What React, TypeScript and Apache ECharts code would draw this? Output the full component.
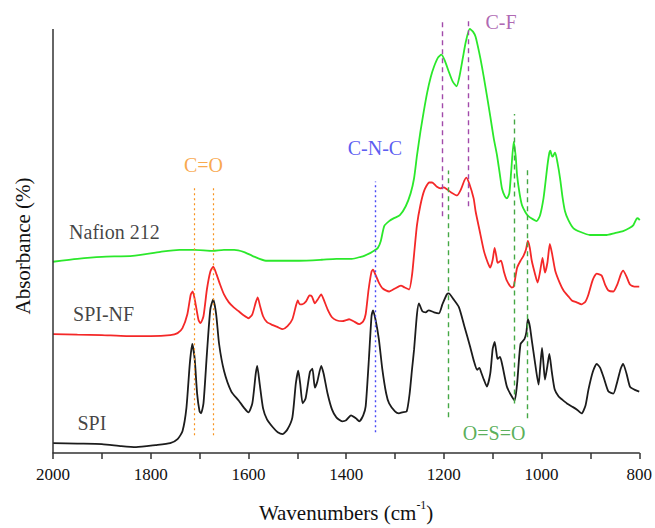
import React, { useEffect, useRef } from 'react';
import * as echarts from 'echarts';

// Wavenumbers (cm-1) and absorbance (arbitrary units, stacked offsets as plotted)
const spiWn = [2000, 1950, 1900, 1860, 1830, 1790, 1760, 1745, 1735, 1727, 1720, 1715, 1710, 1705, 1700, 1697, 1692, 1685, 1678, 1672, 1666, 1660, 1650, 1635, 1620, 1608, 1600, 1592, 1585, 1582, 1577, 1570, 1562, 1550, 1540, 1530, 1520, 1510, 1503, 1498, 1494, 1489, 1483, 1474, 1469, 1464, 1459, 1451, 1446, 1438, 1429, 1420, 1408, 1400, 1390, 1380, 1373, 1365, 1360, 1354, 1348, 1345, 1340, 1333, 1326, 1318, 1312, 1300, 1292, 1285, 1276, 1270, 1265, 1261, 1255, 1251, 1244, 1237, 1231, 1220, 1210, 1203, 1194, 1190, 1180, 1169, 1158, 1146, 1138, 1132, 1127, 1124, 1118, 1112, 1105, 1100, 1096, 1092, 1090, 1085, 1080, 1071, 1062, 1055, 1050, 1043, 1035, 1031, 1028, 1024, 1020, 1013, 1006, 1003, 999, 996, 993, 988, 984, 979, 973, 965, 958, 948, 938, 928, 918, 910, 904, 895, 887, 880, 872, 863, 853, 845, 838, 833, 826, 819, 810, 800];
const spiAbs = [10, 9.5, 9, 7, 6, 8, 10, 14, 22, 45, 90, 110, 95, 60, 42, 40, 50, 100, 145, 155, 140, 110, 83, 62, 53, 45, 41, 50, 80, 88, 70, 45, 34, 26, 21, 19, 24, 36, 70, 83, 70, 50, 55, 82, 85, 66, 72, 88, 80, 60, 44, 36, 32, 33, 38, 35, 32, 38, 47, 90, 138, 144, 135, 115, 85, 60, 50, 42, 40, 41, 42, 60, 85, 104, 140, 151, 143, 142, 144, 142, 141, 150, 160, 161, 155, 147, 128, 107, 92, 84, 86, 82, 74, 67, 80, 105, 112, 100, 95, 97, 88, 67, 58, 53, 70, 110, 115, 122, 135, 128, 114, 90, 69, 85, 106, 90, 74, 88, 100, 82, 64, 57, 54, 50, 47, 44, 40, 48, 64, 82, 90, 86, 75, 62, 60, 72, 85, 90, 80, 67, 64, 62];

const spinfWn = [2000, 1950, 1900, 1850, 1800, 1760, 1745, 1735, 1725, 1718, 1714, 1708, 1702, 1698, 1692, 1685, 1678, 1672, 1665, 1658, 1650, 1640, 1630, 1620, 1610, 1600, 1592, 1585, 1581, 1576, 1570, 1562, 1550, 1540, 1530, 1520, 1510, 1503, 1499, 1495, 1490, 1482, 1475, 1470, 1464, 1458, 1451, 1446, 1438, 1429, 1420, 1408, 1400, 1394, 1385, 1373, 1365, 1360, 1354, 1348, 1345, 1340, 1333, 1325, 1312, 1300, 1288, 1280, 1271, 1265, 1261, 1255, 1248, 1240, 1230, 1224, 1215, 1207, 1200, 1196, 1185, 1173, 1165, 1158, 1154, 1148, 1139, 1135, 1127, 1118, 1110, 1105, 1100, 1096, 1092, 1090, 1083, 1077, 1071, 1061, 1057, 1050, 1043, 1037, 1032, 1028, 1024, 1020, 1014, 1008, 1003, 998, 993, 988, 983, 978, 972, 963, 955, 945, 938, 928, 918, 910, 904, 895, 887, 877, 870, 863, 853, 845, 838, 833, 826, 819, 810, 800];
const spinfAbs = [120, 119.5, 119, 118, 118, 119, 121, 126, 140, 160, 163, 150, 134, 131, 138, 165, 183, 188, 180, 170, 160, 152, 147, 143, 139, 136, 140, 152, 157, 148, 138, 132, 129, 127, 125, 128, 135, 148, 154, 150, 150, 153, 159, 158, 151, 155, 160, 155, 145, 137, 134, 133, 134, 135, 133, 130, 133, 140, 165, 183, 185, 180, 172, 166, 163, 166, 169, 167, 165, 180, 200, 230, 250, 265, 273, 273, 269, 267, 268, 267, 263, 260, 266, 275, 278, 272, 257, 244, 225, 204, 192, 187, 195, 207, 197, 192, 194, 183, 174, 167, 168, 187, 194, 199, 205, 214, 207, 194, 182, 172, 183, 197, 182, 192, 211, 200, 184, 172, 164, 158, 154, 152, 150, 153, 160, 175, 181, 179, 170, 164, 163, 170, 180, 184, 178, 170, 168, 168];

const nafionWn = [2000, 1950, 1900, 1837, 1780, 1741, 1710, 1673, 1650, 1629, 1610, 1592, 1564, 1530, 1496, 1450, 1420, 1388, 1370, 1363, 1350, 1343, 1335, 1329, 1322, 1312, 1302, 1290, 1278, 1268, 1261, 1255, 1248, 1241, 1234, 1227, 1220, 1212, 1205, 1198, 1190, 1182, 1174, 1168, 1161, 1155, 1147, 1140, 1135, 1128, 1122, 1115, 1105, 1098, 1091, 1085, 1081, 1075, 1071, 1066, 1062, 1057, 1053, 1050, 1045, 1040, 1033, 1027, 1018, 1010, 1003, 996, 992, 988, 984, 982, 979, 977, 974, 972, 967, 962, 957, 952, 945, 935, 920, 901, 885, 867, 850, 833, 820, 812, 806, 803, 799];
const nafionAbs = [193, 196, 198, 199, 203, 205, 205, 204, 205, 205, 203, 199, 194, 194, 194, 195, 196, 196, 198, 199, 202, 204, 207, 214, 229, 234, 237, 240, 249, 262, 277, 300, 324, 345, 364, 379, 390, 399, 402, 396, 385, 375, 370, 380, 399, 415, 428, 425, 420, 405, 390, 370, 340, 318, 300, 280, 267, 259, 257, 262, 285, 314, 300, 280, 262, 250, 243, 239, 236, 234, 240, 257, 273, 290, 303, 305, 300, 299, 302, 303, 292, 277, 258, 244, 235, 227, 223, 220, 220, 220, 222, 224, 227, 230, 236, 237, 235];

const seriesNames = ['Nafion 212', 'SPI-NF', 'SPI'];
const seriesColors = ['#2BE82B', '#F42828', '#1C1C1C'];
// label anchor (left edge) in data coordinates
const seriesLabelWn = [1967, 1959, 1950];
const seriesLabelAbs = [223, 140, 30];

const bandLabels = ['C=O', 'C-N-C', 'C-F', 'O=S=O'];
const bandColors = ['#F7931E', '#3232EE', '#9A3F9E', '#2F9A2F'];
const bandLineColors = ['#F7931E', '#4A4AF5', '#A24AAA', '#45A845'];
const bandLabelWn = [1692, 1341, 1083, 1097];
const bandLabelAbs = [291, 308, 435, 20];
// marker lines: [band index, wavenumber, lower abs, upper abs]
const bandLines: [number, number, number, number][] = [
  [0, 1710, 18, 270],
  [0, 1671, 18, 270],
  [1, 1341, 21, 274],
  [2, 1203, 239, 437],
  [2, 1151, 249, 437],
  [3, 1190, 36, 285],
  [3, 1056, 50, 342],
  [3, 1029, 35, 287],
];

const xTicks = { min: 800, max: 2000, step: 100 };
const yRange = { min: 0, max: 440, axisTop: 428 };
const FONT = '"Liberation Serif", "Times New Roman", serif';

const zip = (w: number[], a: number[]) => w.map((x, i) => [x, a[i]]);

export default function App() {
  const ref = useRef<HTMLDivElement>(null);
  useEffect(() => {
    const chart = echarts.init(ref.current!, null, { renderer: 'svg' });
    const lineStyles = [
      { type: [2, 3], width: 1.2 },
      { type: [2, 3], width: 1.4 },
      { type: [5, 4], width: 1.4 },
      { type: [5, 4], width: 1.4 },
    ];
    const markData: any[] = bandLines.map(([b, w, lo, hi]) => [
      { coord: [w, lo], lineStyle: { color: bandLineColors[b], ...lineStyles[b] } },
      { coord: [w, hi] },
    ]);
    // visible y-axis line, from 0 up to the axis top
    markData.unshift([
      { coord: [xTicks.max, yRange.min], lineStyle: { color: '#333', width: 1.5, type: 'solid' } },
      { coord: [xTicks.max, yRange.axisTop] },
    ]);
    const curveData = [zip(nafionWn, nafionAbs), zip(spinfWn, spinfAbs), zip(spiWn, spiAbs)];
    chart.setOption({
      animation: false,
      grid: { left: 53, right: 14, top: 17, bottom: 71 },
      xAxis: {
        type: 'value',
        inverse: true,
        min: xTicks.min,
        max: xTicks.max,
        interval: xTicks.step,
        axisLine: { show: true, lineStyle: { color: '#333', width: 1.5 } },
        axisTick: { show: true, length: 6, lineStyle: { color: '#333', width: 1.5 } },
        axisLabel: {
          color: '#111',
          fontSize: 17,
          fontFamily: FONT,
          margin: 13,
          formatter: (v: number) => (v % 200 === 0 ? String(v) : ''),
        },
        splitLine: { show: false },
        name: '{a|Wavenumbers (cm}{s|-1}{a|)}',
        nameLocation: 'middle',
        nameGap: 46,
        nameTextStyle: {
          rich: {
            a: { fontSize: 21, fontFamily: FONT, color: '#111', lineHeight: 24, verticalAlign: 'bottom' },
            s: { fontSize: 12, fontFamily: FONT, color: '#111', lineHeight: 13, verticalAlign: 'top' },
          },
        },
      },
      yAxis: {
        type: 'value',
        min: yRange.min,
        max: yRange.max,
        axisLine: { show: false },
        axisTick: { show: false },
        axisLabel: { show: false },
        splitLine: { show: false },
      },
      graphic: [
        {
          type: 'text',
          x: 23,
          y: 246,
          rotation: Math.PI / 2,
          style: {
            text: 'Absorbance (%)',
            fontSize: 21,
            fontFamily: FONT,
            fill: '#111',
            align: 'center',
            verticalAlign: 'middle',
          },
        },
      ],
      series: [
        ...seriesNames.map((n, i) => ({
          type: 'line',
          name: n,
          data: curveData[i],
          showSymbol: false,
          smooth: 0.2,
          clip: false,
          lineStyle: { color: seriesColors[i], width: 1.8 },
          z: 2,
        })),
        {
          type: 'line',
          name: 'bands',
          data: [],
          clip: false,
          z: 3,
          markLine: { silent: true, symbol: 'none', label: { show: false }, data: markData },
        },
        {
          type: 'scatter',
          name: 'seriesLabels',
          symbolSize: 0,
          clip: false,
          z: 4,
          data: seriesNames.map((n, i) => ({ name: n, value: [seriesLabelWn[i], seriesLabelAbs[i]] })),
          label: {
            show: true,
            position: 'inside',
            align: 'left',
            verticalAlign: 'middle',
            formatter: '{b}',
            fontSize: 20,
            fontFamily: FONT,
            color: '#111',
          },
        },
        {
          type: 'scatter',
          name: 'bandLabels',
          symbolSize: 0,
          clip: false,
          z: 4,
          data: bandLabels.map((n, i) => ({
            name: n,
            value: [bandLabelWn[i], bandLabelAbs[i]],
            label: { color: bandColors[i] },
          })),
          label: {
            show: true,
            position: 'inside',
            align: 'center',
            verticalAlign: 'middle',
            formatter: '{b}',
            fontSize: 20,
            fontFamily: FONT,
          },
        },
      ],
    });
    return () => chart.dispose();
  }, []);
  return <div ref={ref} style={{ position: 'absolute', left: 0, top: 0, width: 655, height: 528 }} />;
}
